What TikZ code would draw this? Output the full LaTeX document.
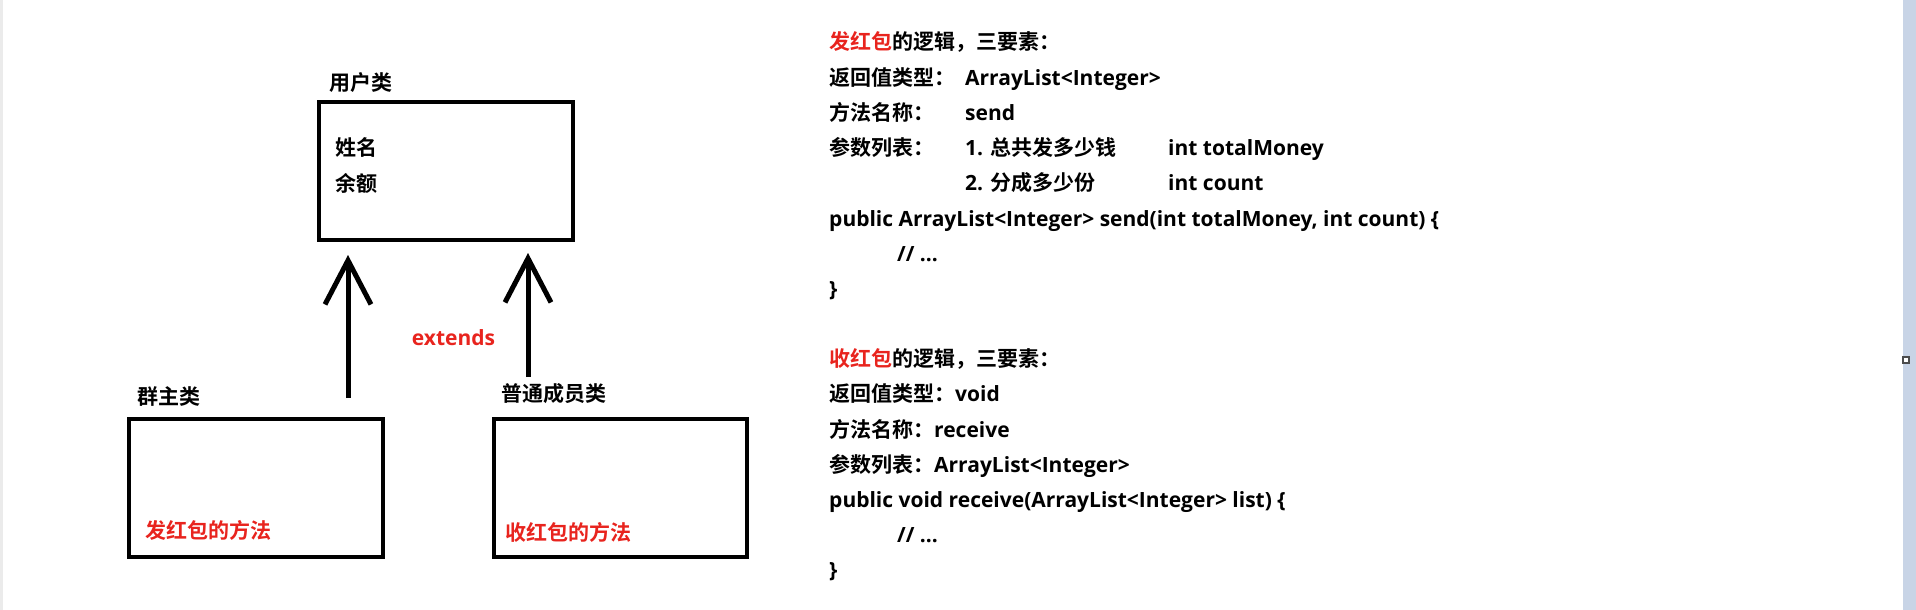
\documentclass[tikz,border=0pt]{standalone}
\usepackage{fontspec}
\setmainfont{Open Sans}
\newfontfamily\cjk{Noto Sans CJK SC}[UprightFont=* Bold, BoldFont=* Bold]
\usetikzlibrary{arrows.meta}
\definecolor{hongse}{RGB}{232,36,30}
\definecolor{bianlan}{RGB}{200,212,230}
\tikzset{
  lei/.style={draw, line width=4pt, minimum width=254pt, minimum height=138pt, inner sep=0pt},
  biaoti/.style={font=\cjk\fontsize{21}{25}\selectfont, inner sep=0pt, anchor=west, text height=16pt, text depth=0pt},
  hang/.style={font=\bfseries\fontsize{21}{25}\selectfont, inner sep=0pt, anchor=west, text height=16pt, text depth=0pt},
  jicheng/.style={line width=5pt, -{Straight Barb[length=44pt,width=46pt]}},
}
\begin{document}
\begin{tikzpicture}[x=1pt,y=-1pt]
  \useasboundingbox (0,0) rectangle (1916,610);

  %--- Klassen
  \node[lei] (yonghu) at (446,171) {};
  \node[biaoti] (yonghubt) at (329,82) {用户类};
  \node[biaoti] (xingming) at (335,147) {姓名};
  \node[biaoti] (yue) at (335,183) {余额};

  \node[lei] (qunzhu) at (256,488) {};
  \node[biaoti] (qunzhubt) at (137,396) {群主类};
  \node[biaoti, text=hongse] (fa) at (145,530) {发红包的方法};

  \node[lei, minimum width=253pt] (putong) at (620.5,488) {};
  \node[biaoti] (putongbt) at (501,393) {普通成员类};
  \node[biaoti, text=hongse] (shou) at (505,532) {收红包的方法};

  %--- extends
  \coordinate (qzwei) at (348,398);
  \coordinate (ptwei) at (528,377);
  \draw[jicheng, shorten >=13pt] (qzwei) -- (qzwei |- yonghu.south);
  \draw[jicheng, shorten >=11pt] (ptwei) -- (ptwei |- yonghu.south);
  \node[hang, text=hongse, anchor=center] (extends) at (453.5,337) {extends};

  %--- 发红包
  \node[hang] (fa1) at (829,42) {{\color{hongse}\cjk 发红包}{\cjk 的逻辑，三要素：}};
  \node[hang] (fa2) at (829,77.2) {\cjk 返回值类型：};
  \node[hang] (fa2b) at (965,77.2) {ArrayList<Integer>};
  \node[hang] (fa3) at (829,112.4) {\cjk 方法名称：};
  \node[hang] (fa3b) at (965,112.4) {send};
  \node[hang] (fa4) at (829,147.6) {\cjk 参数列表：};
  \node[hang] (fa4b) at (965,147.6) {1. {\cjk 总共发多少钱}};
  \node[hang] (fa4c) at (1168,147.6) {int totalMoney};
  \node[hang] (fa5b) at (965,182.8) {2. {\cjk 分成多少份}};
  \node[hang] (fa5c) at (1168,182.8) {int count};
  \node[hang] (fa6) at (829,218) {public ArrayList<Integer> send(int totalMoney, int count) \{};
  \node[hang] (fa7) at (897,253.2) {// ...};
  \node[hang] (fa8) at (829,288.4) {\}};

  %--- 收红包
  \node[hang] (shou1) at (829,358.6) {{\color{hongse}\cjk 收红包}{\cjk 的逻辑，三要素：}};
  \node[hang] (shou2) at (829,393.8) {{\cjk 返回值类型：}void};
  \node[hang] (shou3) at (829,429) {{\cjk 方法名称：}receive};
  \node[hang] (shou4) at (829,464.2) {{\cjk 参数列表：}ArrayList<Integer>};
  \node[hang] (shou5) at (829,499.4) {public void receive(ArrayList<Integer> list) \{};
  \node[hang] (shou6) at (897,534.6) {// ...};
  \node[hang] (shou7) at (829,569.8) {\}};

  %--- Fensterrand
  \fill[black!8] (0,0) rectangle (3,610);
  \fill[bianlan] (1903,0) rectangle (1916,610);
  \draw[line width=1.5pt, black!70, fill=white] (1903,357) rectangle (1909,363);
\end{tikzpicture}
\end{document}
